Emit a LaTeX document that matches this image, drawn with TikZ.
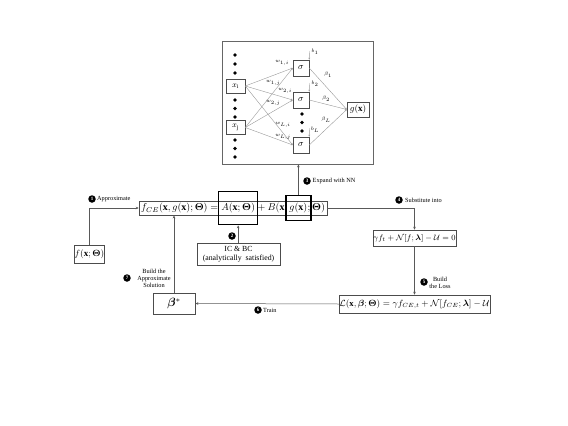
\documentclass[tikz,border=0pt]{standalone}
\usepackage{fontspec}
\setmainfont{Liberation Serif}
\usepackage{amsmath,amssymb,bm}
\usetikzlibrary{arrows.meta,positioning,fit,calc}
\begin{document}
\begin{tikzpicture}[x=1pt,y=-1pt,
  box/.style={draw=black!70, line width=0.5pt, inner sep=1.5pt},
  thickbox/.style={draw=black, line width=1.6pt, inner sep=0},
  ln/.style={draw=black!65, line width=0.5pt},
  arr/.style={ln, -{Stealth[length=3pt,width=2.6pt]}},
  nnln/.style={draw=black!40, line width=0.4pt, -{Stealth[length=2pt,width=1.8pt]}},
  num/.style={circle, fill=black, text=white, inner sep=0pt, minimum size=7.5pt, font=\fontsize{5}{5}\selectfont\bfseries},
  lbl/.style={font=\fontsize{6.3}{7}\selectfont, inner sep=0},
  tiny/.style={font=\fontsize{5.2}{6}\selectfont, inner sep=0},
  nndot/.style={circle, fill=black, inner sep=0, minimum size=3.6pt},
  eqp/.style={inner sep=0, anchor=base west, font=\fontsize{10}{12}\selectfont}]
\useasboundingbox (0,0) rectangle (568,426);

% ---------- neural network box ----------
\node[draw=black!60, line width=0.7pt, minimum width=151pt, minimum height=123pt, inner sep=0] (nn) at (297.5,102.5) {};
\foreach \y [count=\k] in {55,64,73,100,108.5,117,140,148.5,157}
  \node[nndot] (d\k) at (235,\y) {};
\foreach \y [count=\k] in {114,122.5,131}
  \node[nndot] (sd\k) at (302,\y) {};
\node[box, fill=white, minimum width=19pt, minimum height=14pt, inner sep=0, font=\fontsize{8}{9}\selectfont] (xi) at (235.5,86) {$x_{\mathrm{i}}$};
\node[box, fill=white, minimum width=19pt, minimum height=14pt, inner sep=0, font=\fontsize{8}{9}\selectfont] (xj) at (235.5,127.5) {$x_{\mathrm{j}}$};
\node[box, minimum width=16pt, minimum height=16pt, inner sep=0, font=\fontsize{9}{10}\selectfont] (s1) at (301,68) {$\sigma$};
\node[box, minimum width=16pt, minimum height=16pt, inner sep=0, font=\fontsize{9}{10}\selectfont] (s2) at (301,100) {$\sigma$};
\node[box, minimum width=16pt, minimum height=16pt, inner sep=0, font=\fontsize{9}{10}\selectfont] (s3) at (301,145) {$\sigma$};
\node[box, minimum width=22pt, minimum height=15pt, inner sep=0, font=\fontsize{9}{10}\selectfont] (g) at (358,109.5) {$g(\mathbf{x})$};
\foreach \a in {xi,xj} \foreach \b in {s1,s2,s3}
  \draw[nnln] (\a.east) -- (\b.west);
\foreach \b in {s1,s2,s3}
  \draw[nnln] (\b.east) -- (g.west);
\node[tiny] (w1i) at (282,63) {$w_{1,i}$};
\node[tiny] (w1j) at (273,83) {$w_{1,j}$};
\node[tiny] (w2i) at (285,91) {$w_{2,i}$};
\node[tiny] (w2j) at (273,103) {$w_{2,j}$};
\node[tiny] (wLi) at (283,125) {$w_{L,i}$};
\node[tiny] (wLj) at (283,137) {$w_{L,j}$};
\node[tiny] (be1) at (328,75) {$\beta_1$};
\node[tiny] (be2) at (326,99) {$\beta_2$};
\node[tiny] (beL) at (326,120) {$\beta_L$};
\coordinate (bs1) at (309.5,51);
\coordinate (bs2) at (309.5,83);
\coordinate (bs3) at (309.5,128);
\draw[nnln] (bs1) -- (s1.north east);
\draw[nnln] (bs2) -- (s2.north east);
\draw[nnln] (bs3) -- (s3.north east);
\node[tiny] (b1) at (315,52) {$b_1$};
\node[tiny] (b2) at (315,84) {$b_2$};
\node[tiny] (bL) at (315,130) {$b_L$};

% ---------- main equation ----------
\node[eqp] (e1) at (141,210.5) {$f_{CE}(\mathbf{x},g(\mathbf{x});\bm{\Theta})={}$};
\node[eqp] (e2) at (e1.base east) {$A(\mathbf{x};\bm{\Theta})$};
\node[eqp] (e3) at (e2.base east) {${}+B(\mathbf{x},\,$};
\node[eqp] (e4) at (e3.base east) {$g(\mathbf{x})$};
\node[eqp] (e5) at (e4.base east) {$;\bm{\Theta})$};
\node[draw=black!70, line width=0.5pt, fit=(e1)(e5), inner xsep=2pt, inner ysep=2pt] (eq) {};
\node[thickbox, minimum width=39pt, minimum height=33pt] (Abox) at (e2.center) {};
\node[thickbox, minimum width=25pt, minimum height=25pt] (gbox) at (e4.center) {};

% ---------- other boxes ----------
\node[box, minimum width=29pt, minimum height=18pt, inner sep=0, font=\fontsize{9}{10}\selectfont] (f) at (89.5,254) {$f(\mathbf{x};\bm{\Theta})$};
\node[box, minimum width=83pt, minimum height=22pt, inner sep=0, align=center, font=\fontsize{7.8}{9}\selectfont] (ic) at (238.5,254) {IC \& BC\\(analytically\ \ satisfied)};
\node[box, minimum width=83pt, minimum height=16pt, inner sep=0, font=\fontsize{8}{9}\selectfont] (pde) at (414.5,238) {$\gamma f_t+\mathcal{N}[f;\bm{\lambda}]-\mathcal{U}=0$};
\node[box, minimum width=151pt, minimum height=18pt, inner sep=0, font=\fontsize{8.6}{10}\selectfont] (loss) at (414.5,304) {$\mathcal{L}(\mathbf{x},\bm{\beta};\bm{\Theta})=\gamma f_{CE,t}+\mathcal{N}[f_{CE};\bm{\lambda}]-\mathcal{U}$};
\node[box, line width=0.7pt, minimum width=42pt, minimum height=21pt, inner sep=0, font=\fontsize{12}{13}\selectfont] (beta) at (174,303.5) {$\bm{\beta}^{*}$};

% ---------- connectors ----------
\draw[arr] (f.north) |- (eq.west);
\draw[arr] (ic.north -| Abox.south) -- (Abox.south);
\draw[arr] (gbox.north) -- (gbox.north |- nn.south);
\draw[arr] (eq.east) -| (pde.north);
\draw[arr] (pde.south) -- (loss.north);
\draw[arr] (loss.west) -- (beta.east);
\draw[arr] (beta.north) -- (beta.north |- eq.south);

% ---------- step labels ----------
\node[num] (n1) at (92,199) {1};
\node[lbl, anchor=west] (t1) at (97,199) {Approximate};
\node[num] (n2) at (232,236) {2};
\node[num] (n3) at (307,181) {3};
\node[lbl, anchor=west] (t3) at (312.5,181) {Expand with NN};
\node[num] (n4) at (399,200) {4};
\node[lbl, anchor=west] (t4) at (405,200) {Substitute into};
\node[num] (n5) at (424,282) {5};
\node[lbl, align=center] (t5) at (440,282.5) {Build\\the Loss};
\node[num] (n6) at (258,310) {6};
\node[lbl, anchor=west] (t6) at (263,310) {Train};
\node[num] (n7) at (127,278) {7};
\node[lbl, align=center] (t7) at (154,278.5) {Build the\\Approximate\\Solution};
\end{tikzpicture}
\end{document}
